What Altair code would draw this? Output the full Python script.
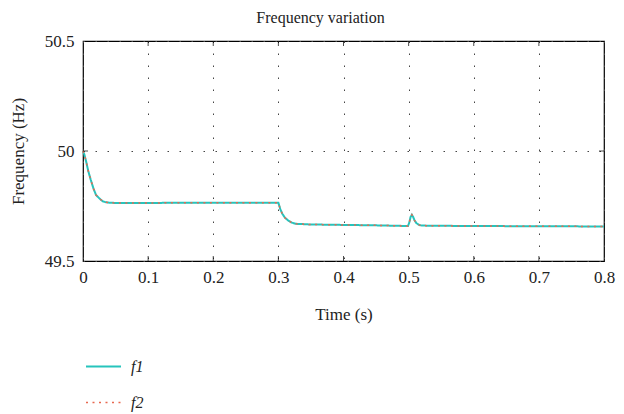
import altair as alt
import pandas as pd

time = [0, 0.002, 0.005, 0.008, 0.012, 0.016, 0.02, 0.025, 0.03, 0.035, 0.04, 0.05,
        0.1, 0.2, 0.3, 0.301, 0.303, 0.306, 0.31, 0.315, 0.32, 0.327, 0.35, 0.4,
        0.45, 0.499, 0.501, 0.503, 0.505, 0.507, 0.509, 0.512, 0.516, 0.52, 0.55,
        0.6, 0.7, 0.8]
f1 = [50.0, 49.985, 49.95, 49.91, 49.868, 49.83, 49.80, 49.785, 49.772, 49.767, 49.765, 49.764,
      49.764, 49.765, 49.765, 49.755, 49.735, 49.715, 49.697, 49.684, 49.675, 49.669, 49.666, 49.664,
      49.662, 49.659, 49.675, 49.700, 49.710, 49.700, 49.685, 49.672, 49.664, 49.661, 49.660,
      49.659, 49.658, 49.657]
f2 = [50.0, 49.985, 49.95, 49.91, 49.868, 49.83, 49.80, 49.785, 49.772, 49.767, 49.765, 49.764,
      49.764, 49.765, 49.765, 49.755, 49.735, 49.715, 49.697, 49.684, 49.675, 49.669, 49.666, 49.664,
      49.662, 49.659, 49.675, 49.700, 49.710, 49.700, 49.685, 49.672, 49.664, 49.661, 49.660,
      49.659, 49.658, 49.657]
series = ["f1", "f2"]
x_ticks = [0, 0.1, 0.2, 0.3, 0.4, 0.5, 0.6, 0.7, 0.8]
y_ticks = [49.5, 50, 50.5]

df = pd.concat([
    pd.DataFrame({"t": time, "f": f1, "s": "f1"}),
    pd.DataFrame({"t": time, "f": f2, "s": "f2"}),
])

FONT = "Liberation Serif"

xs = alt.Scale(domain=[0, 0.8], nice=False)
ys = alt.Scale(domain=[49.5, 50.5], nice=False)

lines = alt.Chart(df).mark_line().encode(
    x=alt.X("t:Q", scale=xs, title="Time (s)",
            axis=alt.Axis(values=x_ticks, format="~g", grid=True, gridDash=[1.5, 10.5],
                          gridColor="#444", gridWidth=1, ticks=False, domain=False,
                          labelFlush=False, labelPadding=8, titlePadding=21)),
    y=alt.Y("f:Q", scale=ys, title="Frequency (Hz)",
            axis=alt.Axis(values=y_ticks, format="~g", grid=True, gridDash=[1.5, 10.5],
                          gridColor="#444", gridWidth=1, ticks=False, domain=False,
                          labelFlush=False, labelPadding=9, titlePadding=17)),
    color=alt.Color("s:N", scale=alt.Scale(domain=series, range=["#26C4BC", "#E8684F"]),
                    title=None,
                    legend=alt.Legend(orient="none", legendX=2, legendY=307, direction="vertical",
                                      symbolType="stroke", symbolSize=1225, symbolStrokeWidth=1.8,
                                      rowPadding=9, padding=0, labelOffset=9,
                                      labelFont=FONT, labelFontSize=16, labelFontStyle="italic",
                                      labelColor="#222")),
    strokeDash=alt.StrokeDash("s:N", scale=alt.Scale(domain=series, range=[[1, 0], [2, 4.5]]),
                              legend=None),
    strokeWidth=alt.StrokeWidth("s:N", scale=alt.Scale(domain=series, range=[2, 1.5]), legend=None),
)

xt = pd.DataFrame({"t": x_ticks[1:-1]})
top_ticks = alt.Chart(xt).mark_tick(orient="vertical", size=10, thickness=1, color="black", clip=True).encode(
    x=alt.X("t:Q", scale=xs), y=alt.datum(50.5))
bot_ticks = alt.Chart(xt).mark_tick(orient="vertical", size=10, thickness=1, color="black", clip=True).encode(
    x=alt.X("t:Q", scale=xs), y=alt.datum(49.5))
yt = pd.DataFrame({"f": [50]})
left_ticks = alt.Chart(yt).mark_tick(orient="horizontal", size=10, thickness=1, color="black", clip=True).encode(
    y=alt.Y("f:Q", scale=ys), x=alt.datum(0))
right_ticks = alt.Chart(yt).mark_tick(orient="horizontal", size=10, thickness=1, color="black", clip=True).encode(
    y=alt.Y("f:Q", scale=ys), x=alt.datum(0.8))

chart = alt.layer(lines, top_ticks, bot_ticks, left_ticks, right_ticks).properties(
    width=521, height=220,
    background="white",
    title=alt.TitleParams("Frequency variation", font=FONT, fontSize=16, fontWeight="normal",
                          color="#222", dx=-23, offset=6),
    autosize=alt.AutoSizeParams(type="none"),
    padding={"left": 75, "top": 33, "right": 12, "bottom": 152},
).configure_view(stroke="black", strokeWidth=1.2).configure_axis(
    labelFont=FONT, titleFont=FONT, labelFontSize=17, titleFontSize=17,
    titleFontWeight="normal", labelColor="#222", titleColor="#222",
).configure_title(font=FONT, fontSize=16, fontWeight="normal", color="#222")

chart.save("out.html", embed_options={"renderer": "svg", "actions": False})
